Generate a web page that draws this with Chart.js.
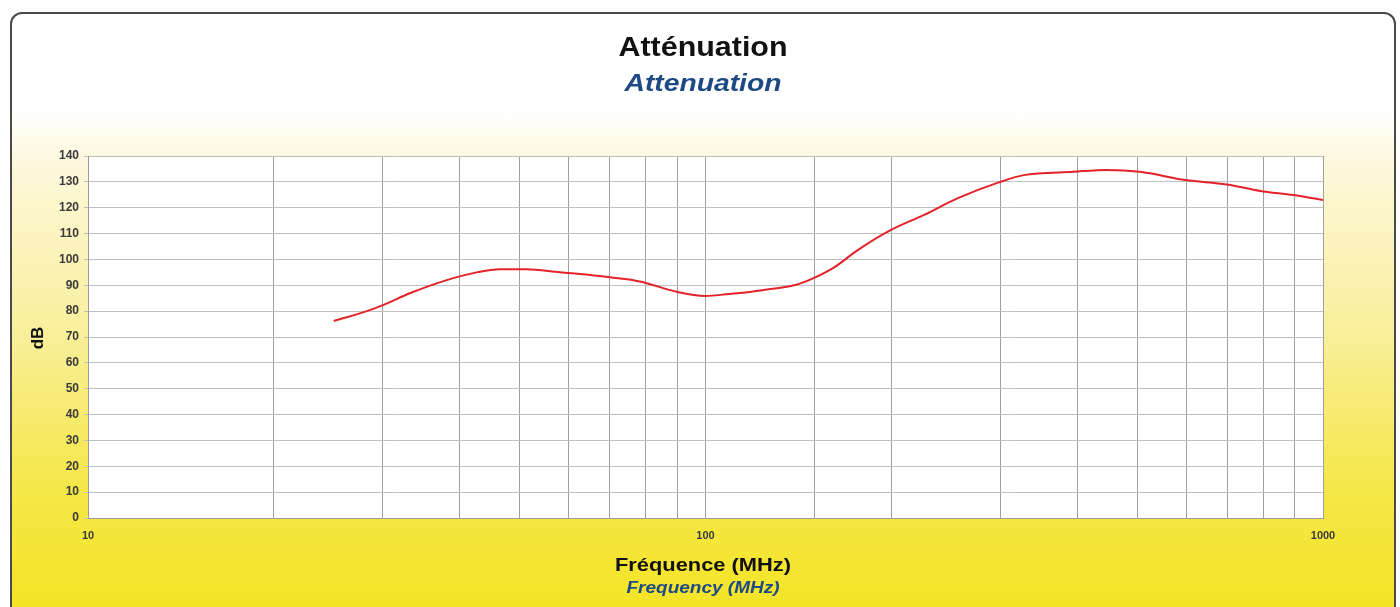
<!DOCTYPE html>
<html>
<head>
<meta charset="utf-8">
<script src="https://cdn.jsdelivr.net/npm/chart.js@4/dist/chart.umd.min.js"></script>
<style>
	html, body { margin: 0; padding: 0; background: #fff; }
	#wrap { position: relative; width: 1400px; height: 607px; overflow: hidden; }
	#frame {
		position: absolute; left: 10px; top: 12px; width: 1382px; height: 620px;
		border: 2px solid #4a4a4a; border-radius: 12px;
		background: linear-gradient(to bottom, #ffffff 0px, #ffffff 94px, #fdf8dc 150px, #f9ef9a 320px, #f5e74a 470px, #f4e424 600px);
	}
	#chart { position: absolute; left: 0; top: 0; }
</style>
</head>
<body>
<div id="wrap">
	<div id="frame"></div>
	<canvas id="chart" width="1400" height="607"></canvas>
</div>
<script>
// frequency in MHz, attenuation in dB
var frequencies = [25, 28.6, 30.1, 33.2, 38.1, 42.6, 46.5, 51.3, 58.1, 65, 70, 78.3, 89.8, 100, 108, 118, 129.4, 137.7, 146.5, 160.8, 176.4, 199.7, 225.9, 255.7, 298.5, 327.6, 394.3, 446.3, 505, 598.9, 699, 791, 895.4, 1000];
var attenuation = [76.2, 80.4, 82.4, 86.9, 92.0, 95.0, 96.2, 96.2, 95.0, 94.0, 93.1, 91.5, 87.5, 85.9, 86.5, 87.4, 88.8, 89.7, 91.8, 96.6, 103.6, 111.4, 117.2, 123.6, 129.8, 132.6, 133.9, 134.6, 133.9, 130.7, 129.0, 126.5, 124.9, 123.0];
var xTickLabels = [10, 100, 1000];
var yTicks = [0, 10, 20, 30, 40, 50, 60, 70, 80, 90, 100, 110, 120, 130, 140];

var fontFamily = '"Liberation Sans", Arial, sans-serif';

var points = [];
frequencies.forEach(function(f, i) {
	points.push({ x: f, y: attenuation[i] });
});

var plotBackground = {
	id: 'plotBackground',
	beforeDraw: function(chart) {
		var a = chart.chartArea;
		var ctx = chart.ctx;
		ctx.save();
		ctx.fillStyle = '#ffffff';
		ctx.fillRect(a.left, a.top, a.right - a.left, a.bottom - a.top);
		ctx.restore();
	}
};

// the lettering in the original is a bit wider than Arial, so stretch to fit
function fitText(ctx, text, x, y, width) {
	var w = ctx.measureText(text).width;
	ctx.save();
	ctx.translate(x, y);
	ctx.scale(width / w, 1);
	ctx.fillText(text, 0, 0);
	ctx.restore();
}

var texts = {
	id: 'texts',
	afterDraw: function(chart) {
		var ctx = chart.ctx;
		var cx = 703;
		ctx.save();
		ctx.textAlign = 'center';
		ctx.textBaseline = 'middle';

		ctx.fillStyle = '#111111';
		ctx.font = 'bold 28px ' + fontFamily;
		fitText(ctx, 'Atténuation', cx, 48, 169);

		ctx.fillStyle = '#1d4a85';
		ctx.font = 'italic bold 24px ' + fontFamily;
		fitText(ctx, 'Attenuation', cx, 84, 157);

		ctx.fillStyle = '#111111';
		ctx.font = 'bold 19px ' + fontFamily;
		fitText(ctx, 'Fréquence (MHz)', cx, 566, 176);

		ctx.fillStyle = '#1d4a85';
		ctx.font = 'italic bold 16px ' + fontFamily;
		fitText(ctx, 'Frequency (MHz)', cx, 589, 153);

		ctx.translate(38, 338);
		ctx.rotate(-Math.PI / 2);
		ctx.fillStyle = '#111111';
		ctx.font = 'bold 17px ' + fontFamily;
		ctx.fillText('dB', 0, 0);
		ctx.restore();
	}
};

var ctx = document.getElementById('chart').getContext('2d');
var myChart = new Chart(ctx, {
	type: 'line',
	data: {
		datasets: [{
			label: 'Atténuation',
			data: points,
			borderColor: '#e32229',
			borderWidth: 2,
			pointRadius: 0,
			fill: false,
			cubicInterpolationMode: 'monotone'
		}]
	},
	options: {
		responsive: false,
		animation: false,
		layout: {
			padding: { left: 10, right: 77, top: 156, bottom: 0 }
		},
		plugins: {
			legend: { display: false },
			title: { display: false },
			tooltip: { enabled: false }
		},
		scales: {
			x: {
				type: 'logarithmic',
				min: 10,
				max: 1000,
				border: { color: '#9a9a9a', width: 1 },
				grid: {
					color: '#a0a0a0',
					lineWidth: 1,
					drawTicks: false
				},
				ticks: {
					padding: 11,
					color: '#3a3a3a',
					font: { family: fontFamily, size: 11, weight: 'bold' },
					autoSkip: false,
					maxRotation: 0,
					callback: function(value) {
						return xTickLabels.indexOf(value) >= 0 ? String(value) : '';
					}
				},
				afterFit: function(scale) {
					scale.height = 607 - 518;
				}
			},
			y: {
				min: 0,
				max: 140,
				border: { color: '#9a9a9a', width: 1 },
				grid: {
					color: '#c0c0c0',
					lineWidth: 1,
					tickLength: 4
				},
				ticks: {
					stepSize: 10,
					padding: 5,
					color: '#3a3a3a',
					font: { family: fontFamily, size: 12, weight: 'bold' },
					callback: function(value) {
						return yTicks.indexOf(value) >= 0 ? String(value) : '';
					}
				},
				afterFit: function(scale) {
					scale.width = 78;
				}
			}
		}
	},
	plugins: [plotBackground, texts]
});
</script>
</body>
</html>
